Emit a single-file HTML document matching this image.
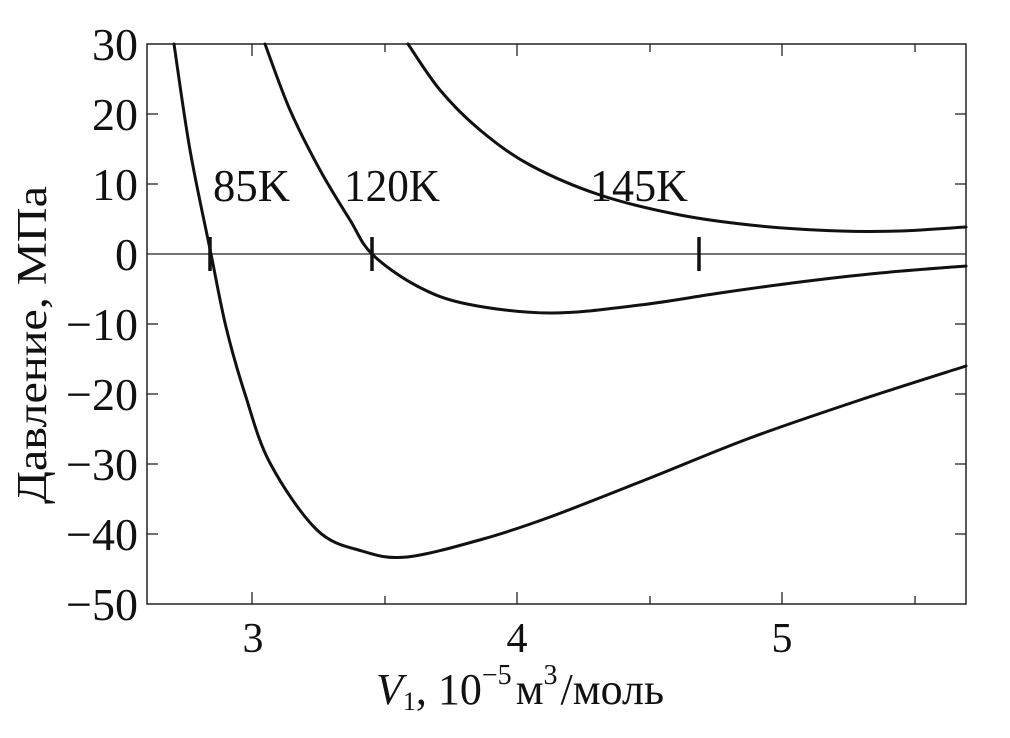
<!DOCTYPE html>
<html><head><meta charset="utf-8"><style>body{margin:0;background:#fff}svg{display:block}</style></head>
<body>
<svg id="s" width="1010" height="738" viewBox="0 0 1010 738" xmlns="http://www.w3.org/2000/svg" font-family="Liberation Serif, serif">
<rect x="147" y="44" width="819" height="560" fill="none" stroke="#222" stroke-width="1.5"/>
<line x1="147" y1="254" x2="966" y2="254" stroke="#222" stroke-width="1.3"/>
<g stroke="#222" stroke-width="1.3">
<line x1="147" y1="114" x2="158" y2="114"/><line x1="147" y1="184" x2="158" y2="184"/>
<line x1="147" y1="324" x2="158" y2="324"/><line x1="147" y1="394" x2="158" y2="394"/>
<line x1="147" y1="464" x2="158" y2="464"/><line x1="147" y1="534" x2="158" y2="534"/>
<line x1="966" y1="114" x2="955" y2="114"/><line x1="966" y1="184" x2="955" y2="184"/>
<line x1="966" y1="324" x2="955" y2="324"/><line x1="966" y1="394" x2="955" y2="394"/>
<line x1="966" y1="464" x2="955" y2="464"/><line x1="966" y1="534" x2="955" y2="534"/>
<line x1="252" y1="604" x2="252" y2="592"/><line x1="385" y1="604" x2="385" y2="596"/>
<line x1="517" y1="604" x2="517" y2="592"/><line x1="650" y1="604" x2="650" y2="596"/>
<line x1="782" y1="604" x2="782" y2="592"/><line x1="915" y1="604" x2="915" y2="596"/>
<line x1="252" y1="44" x2="252" y2="56"/><line x1="385" y1="44" x2="385" y2="52"/>
<line x1="517" y1="44" x2="517" y2="56"/><line x1="650" y1="44" x2="650" y2="52"/>
<line x1="782" y1="44" x2="782" y2="56"/><line x1="915" y1="44" x2="915" y2="52"/>
</g>
<g id="curves" fill="none" stroke="#111" stroke-width="3" stroke-linejoin="round" stroke-linecap="round"></g>
<g stroke="#111" stroke-width="3.5">
<line x1="210" y1="237" x2="210" y2="271"/><line x1="372" y1="237" x2="372" y2="271"/><line x1="699" y1="237" x2="699" y2="271"/>
</g>
<g font-size="46" fill="#111">
<text x="213" y="201" textLength="77" lengthAdjust="spacingAndGlyphs">85K</text>
<text x="344" y="201" textLength="96" lengthAdjust="spacingAndGlyphs">120K</text>
<text x="590" y="201" textLength="98" lengthAdjust="spacingAndGlyphs">145K</text>
</g>
<g font-size="46" fill="#111" text-anchor="end">
<text x="138" y="60">30</text><text x="138" y="130">20</text><text x="138" y="200">10</text>
<text x="138" y="270">0</text><text x="138" y="340">−10</text><text x="138" y="410">−20</text>
<text x="138" y="480">−30</text><text x="138" y="550">−40</text><text x="138" y="620">−50</text>
</g>
<g font-size="42" fill="#111" text-anchor="middle">
<text x="253" y="652">3</text><text x="517" y="652">4</text><text x="782" y="652">5</text>
</g>
<text transform="translate(46,345) rotate(-90)" font-size="42" text-anchor="middle" fill="#111" textLength="318" lengthAdjust="spacingAndGlyphs">Давление, МПа</text>
<text x="376" y="704" font-size="44" fill="#111"><tspan font-style="italic">V</tspan><tspan font-size="26" dy="6">1</tspan><tspan dy="-6">,  10</tspan><tspan font-size="28" dy="-20">−5</tspan><tspan dy="20" dx="4">м</tspan><tspan font-size="28" dy="-20">3</tspan><tspan dy="20" dx="3">/моль</tspan></text>
</svg>
<script>
var data=[
[[174,44],[190,150],[211,254],[226,327],[245,394],[270,463],[317,530],[362,551],[407,557],[483,539],[550,517],[650,478],[750,438],[860,400],[966,366]],
[[265,44],[290,110],[320,170],[350,220],[372,254],[417,286],[467,304],[550,313],[640,305],[720,293],[800,282],[880,273],[966,266]],
[[408,44],[440,90],[480,130],[530,165],[600,195],[680,215],[760,226],[840,231],[900,231],[966,227]]];
var g=document.getElementById('curves');
data.forEach(function(p){
 var d='M'+p[0][0]+','+p[0][1];
 for(var i=0;i<p.length-1;i++){
  var p0=p[Math.max(0,i-1)],p1=p[i],p2=p[i+1],p3=p[Math.min(p.length-1,i+2)];
  var c1x=p1[0]+(p2[0]-p0[0])/6,c1y=p1[1]+(p2[1]-p0[1])/6;
  var c2x=p2[0]-(p3[0]-p1[0])/6,c2y=p2[1]-(p3[1]-p1[1])/6;
  d+=' C'+c1x+','+c1y+' '+c2x+','+c2y+' '+p2[0]+','+p2[1];
 }
 var e=document.createElementNS('http://www.w3.org/2000/svg','path');
 e.setAttribute('d',d);g.appendChild(e);
});
</script>
</body></html>
